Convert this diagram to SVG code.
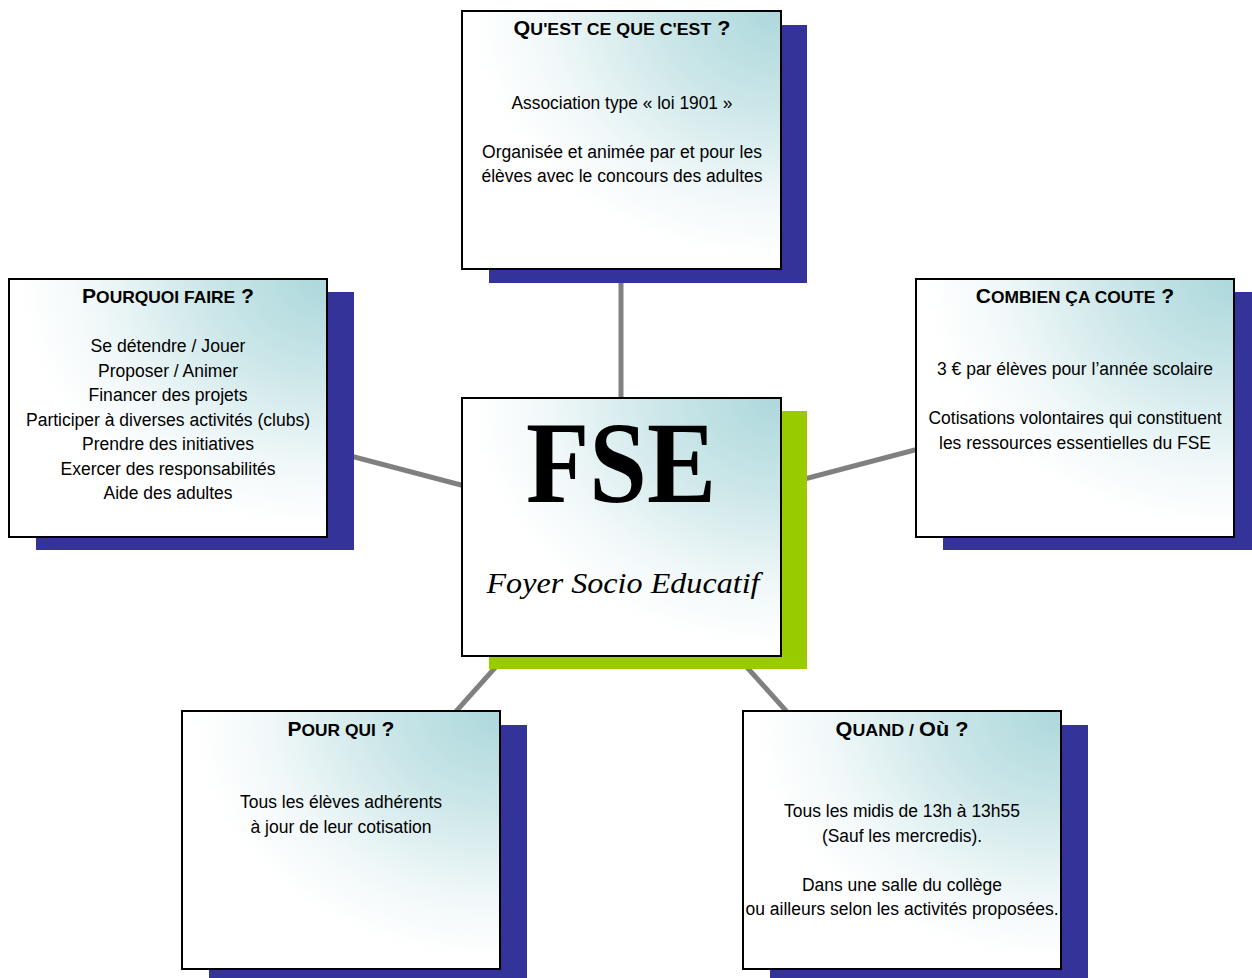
<svg xmlns="http://www.w3.org/2000/svg" width="1252" height="978" viewBox="0 0 1252 978">
<defs>
<radialGradient id="g" cx="1" cy="0" r="1.05" fx="1" fy="0">
<stop offset="0" stop-color="#acd8dc"/>
<stop offset="0.35" stop-color="#cbe6e8"/>
<stop offset="0.7" stop-color="#f1f8f9"/>
<stop offset="0.92" stop-color="#ffffff"/>
</radialGradient>
<style>
.box{fill:url(#g);stroke:#000;stroke-width:2}
.sh{fill:#333399}
.shg{fill:#99cc00}
.t{font-family:"Liberation Sans",Arial,sans-serif;font-weight:bold;text-anchor:middle;fill:#000}
.b{font-family:"Liberation Sans",Arial,sans-serif;font-size:18px;text-anchor:middle;fill:#000}
.big{font-size:20px}
.sm{font-size:16.5px}
.c{stroke:#808080;stroke-width:5;fill:none}
</style>
</defs>
<rect width="1252" height="978" fill="#fff"/>
<g id="connectors">
<line class="c" x1="621" y1="140" x2="621" y2="527"/>
<line class="c" x1="168" y1="408" x2="621" y2="527"/>
<line class="c" x1="1075" y1="408" x2="621" y2="527"/>
<line class="c" x1="341" y1="840" x2="621" y2="527"/>
<line class="c" x1="902" y1="840" x2="621" y2="527"/>
</g>
<g id="node-quest">
<rect class="sh" x="489" y="25" width="318" height="258"/>
<rect class="box" x="462" y="11" width="319" height="258"/>
<text class="t" transform="translate(622,35) scale(1.076,1)"><tspan class="big">Q</tspan><tspan class="sm">U'EST CE QUE C'EST</tspan><tspan class="big"> ?</tspan></text>
<text class="b" x="622" y="109" textLength="221" lengthAdjust="spacingAndGlyphs">Association type « loi 1901 »</text>
<text class="b" x="622" y="158" textLength="280" lengthAdjust="spacingAndGlyphs">Organisée et animée par et pour les</text>
<text class="b" x="622" y="182" textLength="281" lengthAdjust="spacingAndGlyphs">élèves avec le concours des adultes</text>
</g>
<g id="node-pourquoi">
<rect class="sh" x="36" y="292" width="318" height="258"/>
<rect class="box" x="9" y="279" width="318" height="258"/>
<text class="t" transform="translate(168,303) scale(1.055,1)"><tspan class="big">P</tspan><tspan class="sm">OURQUOI FAIRE</tspan><tspan class="big"> ?</tspan></text>
<text class="b" x="168" y="352" textLength="155" lengthAdjust="spacingAndGlyphs">Se détendre / Jouer</text>
<text class="b" x="168" y="377" textLength="140" lengthAdjust="spacingAndGlyphs">Proposer / Animer</text>
<text class="b" x="168" y="401" textLength="159" lengthAdjust="spacingAndGlyphs">Financer des projets</text>
<text class="b" x="168" y="426" textLength="284" lengthAdjust="spacingAndGlyphs">Participer à diverses activités (clubs)</text>
<text class="b" x="168" y="450" textLength="172" lengthAdjust="spacingAndGlyphs">Prendre des initiatives</text>
<text class="b" x="168" y="475" textLength="215" lengthAdjust="spacingAndGlyphs">Exercer des responsabilités</text>
<text class="b" x="168" y="499" textLength="129" lengthAdjust="spacingAndGlyphs">Aide des adultes</text>
</g>
<g id="node-combien">
<rect class="sh" x="943" y="292" width="318" height="258"/>
<rect class="box" x="916" y="279" width="318" height="258"/>
<text class="t" transform="translate(1075,303) scale(1.053,1)"><tspan class="big">C</tspan><tspan class="sm">OMBIEN ÇA COUTE</tspan><tspan class="big"> ?</tspan></text>
<text class="b" x="1075" y="375" textLength="276" lengthAdjust="spacingAndGlyphs">3 € par élèves pour l’année scolaire</text>
<text class="b" x="1075" y="424" textLength="293" lengthAdjust="spacingAndGlyphs">Cotisations volontaires qui constituent</text>
<text class="b" x="1075" y="449" textLength="272" lengthAdjust="spacingAndGlyphs">les ressources essentielles du FSE</text>
</g>
<g id="node-fse">
<rect class="shg" x="489" y="411" width="318" height="258"/>
<rect class="box" x="462" y="398" width="319" height="258"/>
<text x="621" y="502" font-family="'Liberation Serif','Times New Roman',serif" font-weight="bold" font-size="116" text-anchor="middle" textLength="190" lengthAdjust="spacingAndGlyphs">FSE</text>
<text x="623" y="593" font-family="'Liberation Serif','Times New Roman',serif" font-style="italic" font-size="29" text-anchor="middle" textLength="273" lengthAdjust="spacingAndGlyphs">Foyer Socio Educatif</text>
</g>
<g id="node-pourqui">
<rect class="sh" x="209" y="725" width="318" height="258"/>
<rect class="box" x="182" y="711" width="318" height="258"/>
<text class="t" transform="translate(341,736) scale(1.052,1)"><tspan class="big">P</tspan><tspan class="sm">OUR QUI</tspan><tspan class="big"> ?</tspan></text>
<text class="b" x="341" y="808" textLength="202" lengthAdjust="spacingAndGlyphs">Tous les élèves adhérents</text>
<text class="b" x="341" y="833" textLength="181" lengthAdjust="spacingAndGlyphs">à jour de leur cotisation</text>
</g>
<g id="node-quand">
<rect class="sh" x="770" y="725" width="318" height="258"/>
<rect class="box" x="743" y="711" width="318" height="258"/>
<text class="t" transform="translate(902,736) scale(1.085,1)"><tspan class="big">Q</tspan><tspan class="sm">UAND / </tspan><tspan class="big">Où ?</tspan></text>
<text class="b" x="902" y="817" textLength="236" lengthAdjust="spacingAndGlyphs">Tous les midis de 13h à 13h55</text>
<text class="b" x="902" y="842" textLength="160" lengthAdjust="spacingAndGlyphs">(Sauf les mercredis).</text>
<text class="b" x="902" y="891" textLength="200" lengthAdjust="spacingAndGlyphs">Dans une salle du collège</text>
<text class="b" x="902" y="915" textLength="313" lengthAdjust="spacingAndGlyphs">ou ailleurs selon les activités proposées.</text>
</g>
</svg>
